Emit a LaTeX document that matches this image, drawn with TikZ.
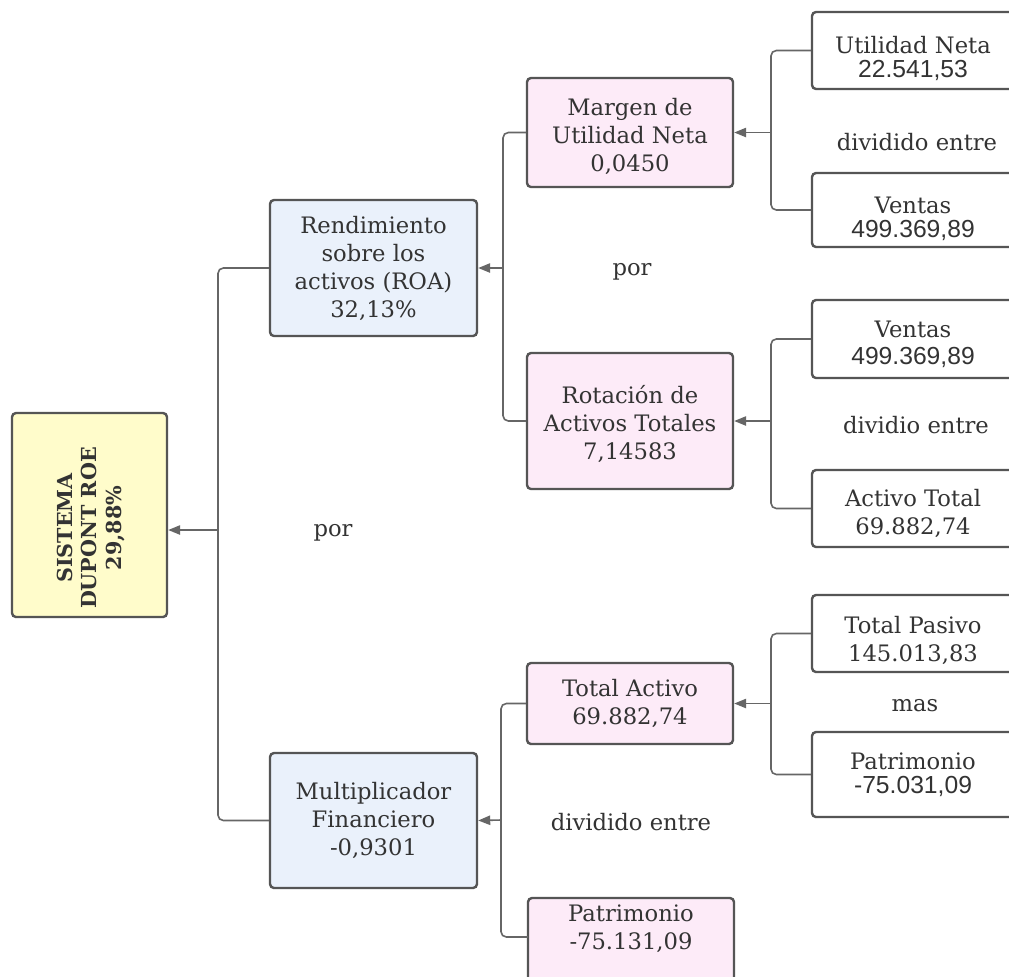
\documentclass[tikz,border=0pt]{standalone}
\usepackage{fontspec}
\setmainfont{DejaVu Serif}
\newfontfamily\numsans{Liberation Sans}
\usetikzlibrary{arrows.meta}
\definecolor{txt}{HTML}{333333}
\definecolor{bordc}{HTML}{555555}
\definecolor{linec}{HTML}{666666}
\definecolor{yel}{HTML}{FFFCCB}
\definecolor{blu}{HTML}{EAF1FB}
\definecolor{pnk}{HTML}{FDEBF8}
\newcommand\dnstrut[1]{\rule{0pt}{#1}}
\newcommand\sansnum[1]{{\numsans\fontsize{18.5}{21}\selectfont #1}}
\begin{document}
\begin{tikzpicture}[x=0.75pt,y=-0.75pt,
  box/.style={draw=bordc, line width=1.8pt, rounded corners=3pt, align=center, inner sep=0pt, text=txt, font=\fontsize{17}{21}\selectfont},
  rbox/.style={box, fill=white, minimum width=202*0.75pt},
  lbl/.style={text=txt, font=\fontsize{17}{21}\selectfont, inner sep=0pt},
  conn/.style={draw=linec, line width=1.2pt, rounded corners=4pt},
  arr/.style={draw=linec, line width=1.2pt, -{Triangle[length=9pt,width=7pt]}}]
\path[use as bounding box] (0,0) rectangle (1009,976);
\clip (0,0) rectangle (1009,976);
\fill[white] (0,0) rectangle (1009,976);

% main box
\node[box, fill=yel, minimum width=155*0.75pt, minimum height=204*0.75pt] (sis) at (89.5,515) {};
\node[rotate=90, text=txt, font=\bfseries\fontsize{15.5}{18.5}\selectfont, align=center, inner sep=0pt] (sist) at (91,528) {SISTEMA\\DUPONT ROE\\29,88\%};

% level 1
\node[box, fill=blu, minimum width=207*0.75pt, minimum height=136*0.75pt] (roa) at (373.5,268) {Rendimiento\\sobre los\\activos (ROA)\\32,13\%};
\node[box, fill=blu, minimum width=207*0.75pt, minimum height=135*0.75pt] (mult) at (373.5,820.5) {Multiplicador\\Financiero\\-0,9301};

% level 2
\node[box, fill=pnk, minimum width=206*0.75pt, minimum height=109*0.75pt] (marg) at (630,132.5) {\dnstrut{19pt}Margen de\\Utilidad Neta\\0,0450};
\node[box, fill=pnk, minimum width=206*0.75pt, minimum height=136*0.75pt] (rot) at (630,421) {\dnstrut{18pt}Rotación de\\Activos Totales\\7,14583};
\node[box, fill=pnk, minimum width=206*0.75pt, minimum height=81*0.75pt] (tact) at (630,703.5) {Total Activo\\69.882,74};
\node[box, fill=pnk, minimum width=206*0.75pt, minimum height=88*0.75pt] (patb) at (631,942) {};
\node[lbl, align=center] (patbt) at (631,929) {Patrimonio\\-75.131,09};

% level 3
\node[rbox, minimum height=77*0.75pt] (util) at (913,50.5) {\dnstrut{25pt}Utilidad Neta\\[-3pt]\sansnum{22.541,53}};
\node[rbox, minimum height=74*0.75pt] (ven1) at (913,210) {\dnstrut{26pt}Ventas\\[-3pt]\sansnum{499.369,89}};
\node[rbox, minimum height=78*0.75pt] (ven2) at (913,339) {\dnstrut{20.5pt}Ventas\\[-1pt]\sansnum{499.369,89}};
\node[rbox, minimum height=77*0.75pt] (act) at (913,508.5) {\dnstrut{20.5pt}Activo Total\\69.882,74};
\node[rbox, minimum height=77*0.75pt] (pas) at (913,633.5) {\dnstrut{23.5pt}Total Pasivo\\145.013,83};
\node[rbox, minimum height=85*0.75pt] (pat) at (913,774.5) {Patrimonio\\[-3pt]\sansnum{-75.031,09}};

% labels
\node[lbl] (por1) at (333,533) {por};
\node[lbl] (por2) at (632,272) {por};
\node[lbl] (div1) at (917,142) {dividido entre};
\node[lbl] (div2) at (916,425) {dividio entre};
\node[lbl] (mas) at (915,706) {mas};
\node[lbl] (div3) at (631,822) {dividido entre};

% junctions
\coordinate (jM) at (218,530);
\coordinate (jR) at (503,268);
\coordinate (jF) at (501,820);
\coordinate (j1) at (771,132.5);
\coordinate (j2) at (771,421);
\coordinate (j3) at (771,703.5);
\coordinate (patw) at (528,937);

% connectors
\draw[conn] (roa.west) -| (jM) |- (mult.west);
\draw[arr] (jM) -- (jM -| sis.east);

\draw[conn] (marg.west) -| (jR) |- (rot.west);
\draw[arr] (jR) -- (roa.east);

\draw[conn] (tact.west) -| (jF) |- (patw);
\draw[arr] (jF) -- (mult.east);

\draw[conn] (util.west) -| (j1) |- (ven1.west);
\draw[arr] (j1) -- (marg.east);

\draw[conn] (ven2.west) -| (j2) |- (act.west);
\draw[arr] (j2) -- (rot.east);

\draw[conn] (pas.west) -| (j3) |- (pat.west);
\draw[arr] (j3) -- (tact.east);
\end{tikzpicture}
\end{document}
